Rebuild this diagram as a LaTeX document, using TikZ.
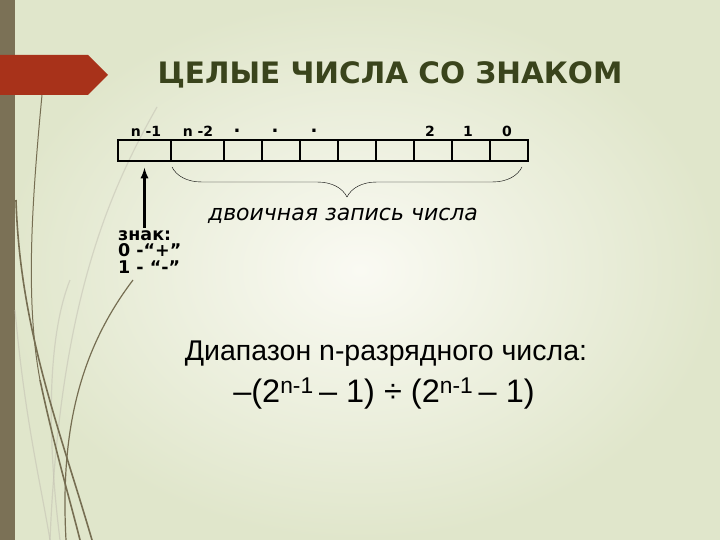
\documentclass[tikz,border=0pt]{standalone}
\usepackage{fontspec}
\setmainfont{DejaVu Sans}
\newfontfamily\tahfont{Liberation Sans}
\usepackage{tikz}
\usetikzlibrary{calc,decorations.pathreplacing,arrows}
\definecolor{bgout}{RGB}{224,230,203}
\definecolor{bgin}{RGB}{250,250,243}
\definecolor{barcol}{RGB}{123,113,86}
\definecolor{bannercol}{RGB}{168,50,26}
\definecolor{titlecol}{RGB}{58,68,28}
\definecolor{swirl}{RGB}{118,110,82}
\tikzset{
  cell/.style={draw=black,line width=1.6pt,minimum height=21pt,inner sep=0pt},
  bitlabel/.style={font=\fontsize{14}{16}\selectfont\bfseries,inner sep=0pt},
  swirlline/.style={swirl,line width=1.6pt},
  faintline/.style={swirl!45,line width=1.2pt,opacity=0.5}
}
\begin{document}
\begin{tikzpicture}[x=1pt,y=-1pt]
  \useasboundingbox (0,0) rectangle (720,540);
  \fill[bgout] (0,0) rectangle (720,540);
  \shade[inner color=bgin,outer color=bgout] (0,0) rectangle (720,540);
  \fill[barcol] (0,0) rectangle (15,540);
  \draw [faintline] (157,107) .. controls (110,190) and (60,300) .. (50,540);
  \draw [faintline] (15,310) .. controls (25,420) and (40,480) .. (50,540);
  \draw [faintline] (70,280) .. controls (50,330) and (45,420) .. (60,540);
  \draw [swirlline,line width=1pt] (42,95) .. controls (32,200) and (25,300) .. (40,380);
  \draw [swirlline] (40,380) .. controls (55,450) and (70,500) .. (80,540);
  \draw [swirlline] (16,200) .. controls (20,330) and (60,430) .. (92,540);
  \draw [swirlline,line width=1.2pt] (133,280) .. controls (80,350) and (60,430) .. (66,540);
  \fill[bannercol] (0,55) -- (88,55) -- (108,75) -- (88,95) -- (0,95) -- cycle;
  \node (title) at (390,75)[text=titlecol,font=\fontsize{29.5}{34}\selectfont\bfseries]{ЦЕЛЫЕ ЧИСЛА СО ЗНАКОМ};
  \node (c1) at (144.5,150.5)[cell,minimum width=53pt]{};
  \node (c2) at (197.5,150.5)[cell,minimum width=53pt]{};
  \node (c3) at (243,150.5)[cell,minimum width=38pt]{};
  \node (c4) at (281,150.5)[cell,minimum width=38pt]{};
  \node (c5) at (319,150.5)[cell,minimum width=38pt]{};
  \node (c6) at (357,150.5)[cell,minimum width=38pt]{};
  \node (c7) at (395,150.5)[cell,minimum width=38pt]{};
  \node (c8) at (433,150.5)[cell,minimum width=38pt]{};
  \node (c9) at (471,150.5)[cell,minimum width=38pt]{};
  \node (c10) at (509,150.5)[cell,minimum width=38pt]{};
  \node (l1) at (146,131)[bitlabel]{n\ -1};
  \node (l2) at (198,131)[bitlabel]{n\ -2};
  \node (d1) at (237,131)[bitlabel,font=\fontsize{18}{16}\selectfont\bfseries]{.};
  \node (d2) at (275,131)[bitlabel,font=\fontsize{18}{16}\selectfont\bfseries]{.};
  \node (d3) at (314,131)[bitlabel,font=\fontsize{18}{16}\selectfont\bfseries]{.};
  \node (l8) at (430,131)[bitlabel]{2};
  \node (l9) at (468,131)[bitlabel]{1};
  \node (l10) at (507,131)[bitlabel]{0};
  \node (sign) at (118,230)[anchor=north west,align=left,inner sep=0pt,
    font=\fontsize{17.5}{16.8}\selectfont\bfseries]{знак:\\0 -“+”\\1 - “-”};
  \draw [black,line width=2.6pt,-latex,shorten >=6pt] (sign.north -| c1.south) ++(0,-2) -- (c1.south);
  \coordinate (bl) at (172,167);
  \coordinate (br) at (522,167);
  \draw [black,thin,decorate,decoration={brace,amplitude=30pt}] (br) -- (bl);
  \node (binary) at (343,216)[font=\fontsize{22}{26}\selectfont\itshape]{двоичная запись числа};
  \node (range) at (386,354)[font=\tahfont\fontsize{28.5}{32}\selectfont]{Диапазон n-разрядного числа:};
  \node (formula) at (384,394)[font=\tahfont\fontsize{32.5}{38}\selectfont]{\textendash(2\textsuperscript{n-1}\,\textendash\ 1) ÷ (2\textsuperscript{n-1}\,\textendash\ 1)};
\end{tikzpicture}
\end{document}
